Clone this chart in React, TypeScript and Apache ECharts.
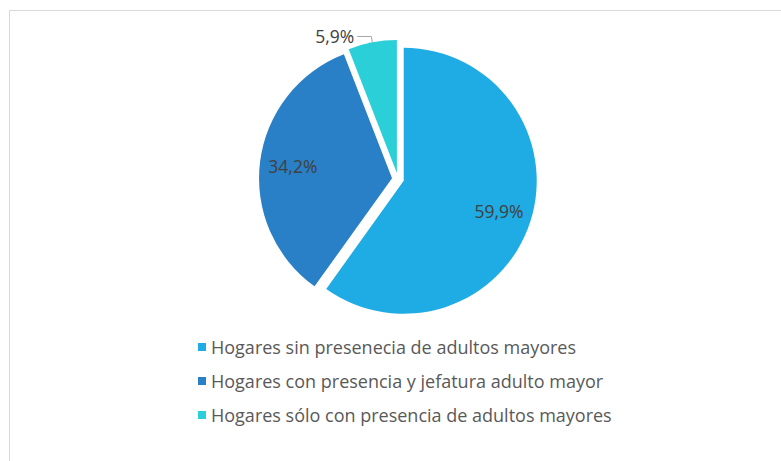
import React, { useEffect, useRef } from "react";
import * as echarts from "echarts";

const categories = [
  "Hogares sin presenecia de adultos mayores",
  "Hogares con presencia y jefatura adulto mayor",
  "Hogares sólo con presencia de adultos mayores",
];
const values = [59.9, 34.2, 5.9];
const valueLabels = ["59,9%", "34,2%", "5,9%"];
const colors = ["#1FABE3", "#2A80C6", "#2BCFD8"];

const FONT = "'Open Sans', sans-serif";

export default function App() {
  const ref = useRef<HTMLDivElement>(null);
  useEffect(() => {
    if (!ref.current) return;
    const chart = echarts.init(ref.current, undefined, { renderer: "svg" });
    const center = [398, 179];
    const R = 133;
    const mainData = values.map((v, i) => ({
      name: categories[i],
      value: v,
      selected: true,
      itemStyle: { color: colors[i] },
      label:
        i === 2
          ? {
              show: true,
              position: "outside",
              formatter: valueLabels[i],
              color: "#404040",
              fontFamily: FONT,
              fontSize: 17.5,
              distanceToLabelLine: 3,
            }
          : { show: false },
      labelLine:
        i === 2
          ? { show: true, length: 6, length2: 14, lineStyle: { color: "#A6A6A6", width: 1 } }
          : { show: false },
    }));
    const overlayData = values.map((v, i) => ({
      name: categories[i],
      value: v,
      selected: true,
      itemStyle: { color: "rgba(0,0,0,0)" },
      label: {
        show: i !== 2,
        position: "inside",
        formatter: valueLabels[i],
        color: "#404040",
        fontFamily: FONT,
        fontSize: 17.5,
      },
    }));
    chart.setOption({
      animation: false,
      color: colors,
      legend: {
        orient: "vertical",
        left: 193,
        top: 333,
        itemWidth: 8,
        itemHeight: 8,
        itemGap: 16,
        icon: "rect",
        data: categories,
        textStyle: { color: "#595959", fontFamily: FONT, fontSize: 18 },
        selectedMode: false,
      },
      graphic: [
        {
          type: "line",
          shape: { x1: 9.5, y1: 10.5, x2: 781, y2: 10.5 },
          style: { stroke: "#D9D9D9", lineWidth: 1 },
        },
        {
          type: "line",
          shape: { x1: 9.5, y1: 10.5, x2: 9.5, y2: 461 },
          style: { stroke: "#D9D9D9", lineWidth: 1 },
        },
      ],
      series: [
        {
          type: "pie",
          center,
          radius: [0, R],
          startAngle: 90,
          clockwise: true,
          selectedMode: "multiple",
          selectedOffset: 6,
          avoidLabelOverlap: false,
          emphasis: { disabled: true },
          silent: true,
          data: mainData,
        },
        {
          type: "pie",
          center,
          radius: [0, 194],
          startAngle: 90,
          clockwise: true,
          selectedMode: "multiple",
          selectedOffset: 6,
          avoidLabelOverlap: false,
          emphasis: { disabled: true },
          silent: true,
          labelLine: { show: false },
          data: overlayData,
        },
      ],
    });
    return () => chart.dispose();
  }, []);
  return (
    <div
      ref={ref}
      style={{ position: "fixed", left: 0, top: 0, width: 781, height: 461, background: "#fff" }}
    />
  );
}
